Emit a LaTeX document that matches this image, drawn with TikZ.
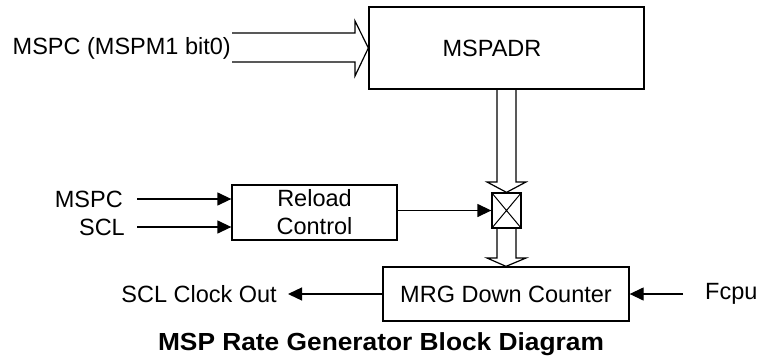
\documentclass[tikz,border=0pt]{standalone}
\usepackage{fontspec}
\setmainfont{Liberation Sans}
\usetikzlibrary{arrows.meta,calc}
\begin{document}
\begin{tikzpicture}[x=1pt,y=-1pt,
  every node/.style={font=\fontsize{23.5}{28}\selectfont, inner sep=0pt},
  blockbox/.style={draw, line width=1.3pt, rectangle},
  sig/.style={line width=1.3pt, -{Triangle[length=14pt,width=13pt]}},
  hollow/.style={line width=1.2pt, line join=miter}
]
\useasboundingbox (0,0) rectangle (759,356);
% blocks
\node[blockbox, minimum width=275pt, minimum height=82pt] (mspadr) at (506.5,48) {};
\node (mspadrtxt) at (492,48) {MSPADR};
\node[blockbox, minimum width=165pt, minimum height=55pt, align=center] (reload) at (314.5,212.5) {Reload\\Control};
\node[blockbox, minimum width=29pt, minimum height=35pt] (cross) at (506.5,210.5) {};
\draw[line width=1pt] (cross.north west) -- (cross.south east) (cross.north east) -- (cross.south west);
\node[blockbox, minimum width=246pt, minimum height=54pt] (mrg) at (506,294) {MRG Down Counter};
% labels
\node[anchor=east] (lblbus) at (231,48) {MSPC (MSPM1 bit0)};
\node[anchor=east] (lblmspc) at (123,199) {MSPC};
\node[anchor=east] (lblscl) at (125,227) {SCL};
\node[anchor=east] (lblout) at (277,294) {SCL Clock Out};
\node[anchor=west] (lblfcpu) at (705,294) {Fcpu};
\node[anchor=base, font=\bfseries\fontsize{24.7}{28}\selectfont] (title) at (381,350.7) {\scalebox{1.065}[1]{MSP Rate Generator Block Diagram}};
% free ends
\coordinate (inmspc) at (137,199);
\coordinate (inscl) at (137,227);
\coordinate (outclk) at (288,294);
\coordinate (infcpu) at (683,294);
% thin signals
\draw[sig] (inmspc) -- (reload.west |- inmspc);
\draw[sig] (inscl) -- (reload.west |- inscl);
\draw[sig] (reload.east |- cross.west) -- (cross.west);
\draw[sig] (mrg.west |- outclk) -- (outclk);
\draw[sig] (infcpu) -- (mrg.east |- infcpu);
% hollow bus arrows
\draw[hollow] (232,33) -- (355,33) -- (355,21) -- (mspadr.west) -- (355,76) -- (355,62) -- (232,62);
\draw[hollow] (497,89) -- (497,182) -- (487,182) -- (cross.north) -- (526,182) -- (516,182) -- (516,89);
\draw[hollow] (497,228) -- (497,258) -- (487,258) -- (mrg.north) -- (526,258) -- (516,258) -- (516,228);
\end{tikzpicture}
\end{document}
